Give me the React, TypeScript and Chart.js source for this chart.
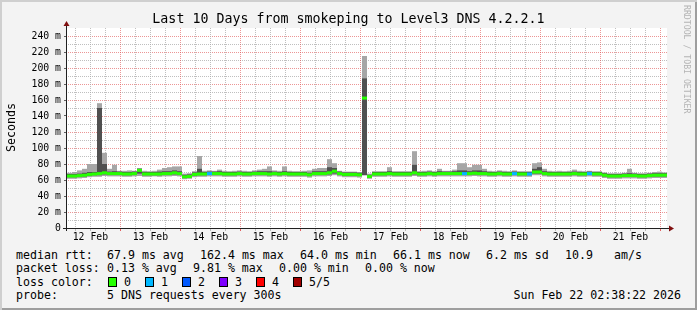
import React, { useEffect, useRef } from 'react';
import { Chart, registerables } from 'chart.js';
Chart.register(...registerables);

const chartTitle = 'Last 10 Days from smokeping to Level3 DNS 4.2.2.1';
const yAxisTitle = 'Seconds';
const watermark = 'RRDTOOL / TOBI OETIKER';
const startHour = 2 + 38 / 60; // Feb 12 02:38, hours counted from Feb 12 00:00
const spanHours = 240;
const binHours = 2;
const dayLabels = ['12 Feb', '13 Feb', '14 Feb', '15 Feb', '16 Feb', '17 Feb', '18 Feb', '19 Feb', '20 Feb', '21 Feb'];
const xGridHours = [6, 12, 18, 24, 30, 36, 42, 48, 54, 60, 66, 72, 78, 84, 90, 96, 102, 108, 114, 120, 126, 132, 138, 144, 150, 156, 162, 168, 174, 180, 186, 192, 198, 204, 210, 216, 222, 228, 234, 240];
const yGridValues = [0, 10, 20, 30, 40, 50, 60, 70, 80, 90, 100, 110, 120, 130, 140, 150, 160, 170, 180, 190, 200, 210, 220, 230, 240];

// median round trip time per 2h bin (ms)
const medianRtt = [
  65, 65, 65.5, 66, 67, 67.5, 68, 69, 68, 68,
  68, 67.5, 67.5, 68, 72, 67.5, 67.5, 67.5, 67.5, 68,
  68, 69, 68, 64, 64.5, 67, 67.5, 67.5, 68, 68,
  68, 67.5, 67.5, 67.5, 68, 67.5, 67.5, 68, 68, 68,
  67.5, 68, 67.5, 68, 67.5, 67.5, 67.5, 67.5, 66.5, 68,
  68, 68, 69, 71, 68, 67, 67, 67, 66.5, 162.4,
  64.5, 67.5, 67.5, 67.5, 68, 67.5, 67.5, 67.5, 67.5, 69,
  67.5, 67.5, 68, 67.5, 68, 68, 68, 68, 68, 68,
  68, 68.5, 68, 68, 67.5, 67.5, 68, 67.5, 67.5, 68,
  67.5, 67.5, 67.5, 70, 70, 68, 67.5, 67.5, 67.5, 67.5,
  67.5, 68, 67.5, 67.5, 68, 67.5, 67.5, 66, 65, 65,
  65, 65.5, 65.5, 65.5, 65, 65, 65.5, 66, 66, 66.1,
];
// fastest ping per bin (ms)
const pingMin = [
  61.5, 61.5, 62, 62.5, 63.5, 64, 64, 65, 64.5, 64.5,
  64.5, 64, 64, 64.5, 65, 64, 64, 64.5, 64, 64.5,
  64.5, 65, 64.5, 61, 61.5, 63.5, 64, 64, 64.5, 64.5,
  64.5, 64, 64, 64, 64.5, 64, 64, 64.5, 64.5, 64.5,
  64, 64.5, 64, 64.5, 64, 64, 64, 64, 63, 64.5,
  64.5, 64.5, 65, 66, 64.5, 63.5, 63.5, 63.5, 63, 66,
  61.5, 64, 64, 64, 64.5, 64, 64, 64, 64, 65,
  64, 64, 64.5, 64, 64.5, 64.5, 64.5, 64.5, 64.5, 64.5,
  64.5, 65, 64.5, 64.5, 64, 64, 64.5, 64, 64, 64.5,
  64, 64, 64, 66, 66, 64.5, 64, 64, 64, 64,
  64, 64.5, 64, 64, 64.5, 64, 64, 62.5, 61.5, 61.5,
  61.5, 62, 62, 62, 61.5, 61.5, 62, 62.5, 62.5, 62.5,
];
// slowest ping per bin (ms)
const pingMax = [
  69, 70, 72, 74, 80, 80, 156, 94, 74, 79,
  71.5, 71.5, 72, 71.5, 75, 71.5, 71, 71.5, 73, 75,
  76, 77, 77, 68, 68.5, 71, 90, 71.5, 72, 71.5,
  73, 71.5, 71, 71.5, 72, 71.5, 71, 72, 73, 74,
  77, 72, 71.5, 77, 71.5, 71, 71, 71.5, 72, 74,
  75, 75, 86, 81, 71.5, 70.5, 70.5, 70.5, 70, 215,
  68, 71, 71, 71, 76, 71, 71, 71, 71, 96,
  71, 71.5, 72, 71, 74, 71.5, 71.5, 73, 81, 81,
  76, 79, 79, 74, 71.5, 71, 72, 71.5, 71, 72,
  71, 71, 71, 81, 82, 74, 71.5, 71, 71.5, 71,
  71.5, 73, 71.5, 71, 71.5, 71, 71, 69.5, 68.5, 68.5,
  68.5, 69, 74, 69, 68.5, 68.5, 69, 70, 70.5, 69.5,
];
// second fastest ping per bin (ms)
const ping2 = [
  63.5, 63.5, 64, 64.5, 65.5, 66, 66, 67, 66.5, 66.5,
  66.5, 66, 66, 66.5, 68, 66, 66, 66, 66, 66.5,
  66.5, 67, 66.5, 62.5, 63, 65.5, 66, 66, 66.5, 66.5,
  66.5, 66, 66, 66, 66.5, 66, 66, 66.5, 66.5, 66.5,
  66, 66.5, 66, 66.5, 66, 66, 66, 66, 65, 66.5,
  66.5, 66.5, 67, 68, 66.5, 65.5, 65.5, 65.5, 65, 66,
  63, 66, 66, 66, 66.5, 66, 66, 66, 66, 67,
  66, 66, 66.5, 66, 66.5, 66.5, 66.5, 66.5, 66.5, 66.5,
  66.5, 67, 66.5, 66.5, 66, 66, 66.5, 66, 66, 66.5,
  66, 66, 66, 68, 68, 66.5, 66, 66, 66, 66,
  66, 66.5, 66, 66, 66.5, 66, 66, 64.5, 63.5, 63.5,
  63.5, 64, 64, 64, 63.5, 63.5, 64, 64.5, 64.5, 64.5,
];
// second slowest ping per bin (ms)
const ping4 = [
  67.5, 67.5, 68, 69, 70, 70, 150, 80, 70.5, 71,
  70.5, 70, 70, 70.5, 74, 70, 70, 70, 70.5, 71,
  71, 72, 71, 66.5, 67, 69.5, 74, 70, 70.5, 70.5,
  71, 70, 70, 70, 70.5, 70, 70, 70.5, 71, 71,
  71, 70.5, 70, 71, 70, 70, 70, 70, 69, 71,
  71, 71, 76, 75, 70.5, 69.5, 69.5, 69.5, 69, 187,
  66.5, 70, 70, 70, 71, 70, 70, 70, 70, 79,
  70, 70, 70.5, 70, 71, 70.5, 70.5, 71, 72, 72,
  71, 72, 72, 71, 70, 70, 70.5, 70, 70, 70.5,
  70, 70, 70, 74, 76, 71, 70, 70, 70, 70,
  70, 70.5, 70, 70, 70.5, 70, 70, 68.5, 67.5, 67.5,
  67.5, 68, 68.5, 68, 67.5, 67.5, 68, 68.5, 68.5, 68.5,
];
// lost pings (of 5) per bin
const lossCount = [
  0, 0, 0, 0, 0, 0, 0, 0, 0, 0,
  0, 0, 0, 0, 0, 0, 0, 0, 0, 0,
  0, 0, 0, 0, 0, 0, 0, 0, 1, 0,
  0, 0, 0, 0, 0, 0, 0, 0, 0, 0,
  0, 0, 0, 0, 0, 0, 0, 0, 0, 0,
  0, 0, 0, 0, 0, 0, 0, 0, 0, 0,
  0, 0, 0, 0, 0, 0, 0, 0, 0, 0,
  0, 0, 0, 0, 0, 0, 0, 0, 0, 1,
  0, 0, 0, 0, 0, 0, 0, 0, 0, 1,
  0, 0, 1, 0, 0, 0, 0, 0, 0, 0,
  0, 0, 0, 0, 1, 0, 0, 0, 0, 0,
  0, 0, 0, 0, 0, 0, 0, 0, 0, 0,
];

const lossColors = ['#26ff00', '#00b8ff', '#0059ff', '#7e00ff', '#ff0000', '#a10000'];
const lossLabels = ['0', '1', '2', '3', '4', '5/5'];

const rttLabel = 'median rtt:';
const rttStats = ['67.9 ms avg', '162.4 ms max', '64.0 ms min', '66.1 ms now', '6.2 ms sd', '10.9', 'am/s'];
const lossLabel = 'packet loss:';
const lossStats = ['0.13 % avg', '9.81 % max', '0.00 % min', '0.00 % now'];
const lossColorLabel = 'loss color:';
const probeLabel = 'probe:';
const probeText = '5 DNS requests every 300s';
const stampText = 'Sun Feb 22 02:38:22 2026';

const MONO = '"DejaVu Sans Mono", monospace';
const MAJOR = 'rgba(224,80,80,0.6)';
const MINOR = 'rgba(170,170,170,0.75)';

const rttX = [107, 200, 300, 393, 486, 565, 614];
const lossX = [107, 193, 279, 365];
const squareX = [108, 145, 182, 219, 256, 293];

const framePlugin = {
  id: 'rrdFrame',
  beforeDraw(chart: any) {
    const { ctx, chartArea: a } = chart;
    ctx.save();
    ctx.fillStyle = '#ffffff';
    ctx.fillRect(a.left, a.top, a.right - a.left, a.bottom - a.top);
    ctx.restore();
  },
  beforeDatasetsDraw(chart: any) {
    const { ctx, chartArea: a, scales } = chart;
    const xs = scales.x;
    const ys = scales.y;
    ctx.save();
    // dotted horizontal grid
    yGridValues.forEach((v) => {
      if (v === 0) return;
      const py = Math.round(ys.getPixelForValue(v));
      ctx.fillStyle = v % 20 === 0 ? MAJOR : MINOR;
      for (let px = a.left + 1; px < a.right; px += 2) ctx.fillRect(px, py, 1, 1);
    });
    // dotted vertical grid
    xGridHours.forEach((h) => {
      const px = Math.round(xs.getPixelForValue(h));
      if (px <= a.left || px >= a.right) return;
      ctx.fillStyle = h % 24 === 0 ? MAJOR : MINOR;
      for (let py = a.top; py < a.bottom; py += 2) ctx.fillRect(px, py, 1, 1);
    });
    ctx.restore();
  },
  afterDatasetsDraw(chart: any) {
    const { ctx, chartArea: a } = chart;
    ctx.save();
    ctx.strokeStyle = '#202020';
    ctx.lineWidth = 1;
    ctx.beginPath();
    ctx.moveTo(a.left - 0.5, a.bottom + 3);
    ctx.lineTo(a.left - 0.5, a.top - 3);
    ctx.moveTo(a.left - 4, a.bottom + 0.5);
    ctx.lineTo(a.right + 2, a.bottom + 0.5);
    ctx.stroke();
    ctx.fillStyle = '#801010';
    ctx.beginPath();
    ctx.moveTo(a.left - 0.5, a.top - 7);
    ctx.lineTo(a.left - 3.5, a.top - 2);
    ctx.lineTo(a.left + 2.5, a.top - 2);
    ctx.closePath();
    ctx.fill();
    ctx.beginPath();
    ctx.moveTo(a.right + 7, a.bottom + 0.5);
    ctx.lineTo(a.right + 2, a.bottom - 2.5);
    ctx.lineTo(a.right + 2, a.bottom + 3.5);
    ctx.closePath();
    ctx.fill();
    ctx.restore();
  },
};

export default function App() {
  const ref = useRef<HTMLCanvasElement>(null);
  useEffect(() => {
    if (!ref.current) return;
    const centers = medianRtt.map((_, i) => startHour + binHours * i + binHours / 2);
    const barCommon = {
      grouped: false,
      barPercentage: 1,
      categoryPercentage: 1,
      borderWidth: 0,
      inflateAmount: 0,
    };
    const chart = new Chart(ref.current, {
      type: 'bar',
      data: {
        datasets: [
          {
            ...barCommon,
            label: 'median',
            order: 0,
            data: centers.map((x, i) => ({ x, y: [medianRtt[i] - 1.9, medianRtt[i] + 1.9] })),
            backgroundColor: lossCount.map((l) => lossColors[l]),
          },
          {
            ...barCommon,
            label: 'smoke inner',
            order: 1,
            data: centers.map((x, i) => ({ x, y: [ping2[i], ping4[i]] })),
            backgroundColor: '#505050',
          },
          {
            ...barCommon,
            label: 'smoke outer',
            order: 2,
            data: centers.map((x, i) => ({ x, y: [pingMin[i], pingMax[i]] })),
            backgroundColor: '#a6a6a6',
          },
        ] as any,
      },
      options: {
        animation: false,
        responsive: false,
        maintainAspectRatio: false,
        devicePixelRatio: 1,
        layout: { padding: { left: 0, top: 28, right: 30, bottom: 0 } },
        plugins: { legend: { display: false }, tooltip: { enabled: false }, title: { display: false } },
        scales: {
          x: {
            type: 'linear',
            min: startHour,
            max: startHour + spanHours,
            offset: false,
            afterBuildTicks: (scale: any) => {
              scale.ticks = xGridHours.map((v) => ({ value: v }));
            },
            afterFit: (scale: any) => {
              scale.height = 17;
            },
            grid: {
              offset: false,
              drawOnChartArea: false,
              color: (c: any) => (c.tick && c.tick.value % 24 === 0 ? 'rgba(224,80,80,0.9)' : 'rgba(170,170,170,0.8)'),
              tickColor: (c: any) => (c.tick && c.tick.value % 24 === 0 ? 'rgba(224,80,80,0.9)' : 'rgba(170,170,170,0.8)'),
              tickLength: 3,
              lineWidth: 1,
            },
            border: { display: false },
            ticks: {
              autoSkip: false,
              maxRotation: 0,
              minRotation: 0,
              padding: 1,
              color: '#000',
              font: { family: MONO, size: 9.8 },
              callback: (v: any) => {
                const n = Number(v);
                return n % 24 === 12 ? dayLabels[(n - 12) / 24] : '';
              },
            },
          },
          y: {
            type: 'linear',
            min: 0,
            max: 250,
            afterBuildTicks: (scale: any) => {
              scale.ticks = yGridValues.map((v) => ({ value: v }));
            },
            afterFit: (scale: any) => {
              scale.width = 67;
            },
            grid: {
              drawOnChartArea: false,
              color: (c: any) => (c.tick && c.tick.value % 20 === 0 ? '#606060' : 'rgba(0,0,0,0)'),
              tickColor: (c: any) => (c.tick && c.tick.value % 20 === 0 ? '#606060' : 'rgba(0,0,0,0)'),
              tickLength: 3,
              lineWidth: 1,
            },
            border: { display: false },
            ticks: {
              autoSkip: false,
              padding: 3,
              color: '#000',
              font: { family: MONO, size: 9.8 },
              callback: (v: any) => {
                const n = Number(v);
                if (n % 20 !== 0) return '';
                return n === 0 ? '0' : `${n} m`;
              },
            },
          },
        },
      } as any,
      plugins: [framePlugin],
    });
    return () => chart.destroy();
  }, []);

  const text = (content: string, left: number, top: number, extra: any = {}) => (
    <div
      style={{
        position: 'absolute',
        left,
        top,
        font: `11.6px ${MONO}`,
        lineHeight: '14px',
        whiteSpace: 'pre',
        color: '#000',
        ...extra,
      }}
    >
      {content}
    </div>
  );

  return (
    <div
      style={{
        position: 'fixed',
        left: 0,
        top: 0,
        width: 697,
        height: 310,
        background: '#f3f3f3',
        boxShadow: 'inset 2px 2px 0 #cfcfcf, inset -2px -2px 0 #9e9e9e',
        overflow: 'hidden',
        fontFamily: MONO,
      }}
    >
      <canvas ref={ref} width={697} height={245} style={{ position: 'absolute', left: 0, top: 0, width: 697, height: 245 }} />
      <div
        style={{
          position: 'absolute',
          left: 0,
          width: 697,
          top: 11,
          textAlign: 'center',
          font: `13.3px ${MONO}`,
          lineHeight: '16px',
          whiteSpace: 'pre',
          color: '#000',
        }}
      >
        {chartTitle}
      </div>
      <div
        style={{
          position: 'absolute',
          left: 4,
          top: 103,
          width: 14,
          height: 49,
          writingMode: 'vertical-rl',
          transform: 'rotate(180deg)',
          font: `11.6px ${MONO}`,
          lineHeight: '14px',
          whiteSpace: 'pre',
          color: '#000',
        }}
      >
        {yAxisTitle}
      </div>
      <div
        style={{
          position: 'absolute',
          left: 682,
          top: 5,
          writingMode: 'vertical-rl',
          font: `8.2px ${MONO}`,
          lineHeight: '10px',
          whiteSpace: 'pre',
          color: '#b4b4b4',
        }}
      >
        {watermark}
      </div>
      {text(rttLabel, 16, 248)}
      {rttStats.map((s, i) => <React.Fragment key={'r' + i}>{text(s, rttX[i], 248)}</React.Fragment>)}
      {text(lossLabel, 16, 261)}
      {lossStats.map((s, i) => <React.Fragment key={'l' + i}>{text(s, lossX[i], 261)}</React.Fragment>)}
      {text(lossColorLabel, 16, 275)}
      {lossLabels.map((s, i) => (
        <React.Fragment key={'c' + i}>
          <div
            style={{
              position: 'absolute',
              left: squareX[i],
              top: 277,
              width: 9,
              height: 10,
              boxSizing: 'border-box',
              border: '1px solid #000',
              background: lossColors[i],
            }}
          />
          {text(s, squareX[i] + 16, 275)}
        </React.Fragment>
      ))}
      {text(probeLabel, 16, 288)}
      {text(probeText, 107, 288)}
      <div
        style={{
          position: 'absolute',
          right: 16,
          top: 288,
          font: `11.6px ${MONO}`,
          lineHeight: '14px',
          whiteSpace: 'pre',
          color: '#000',
        }}
      >
        {stampText}
      </div>
    </div>
  );
}
